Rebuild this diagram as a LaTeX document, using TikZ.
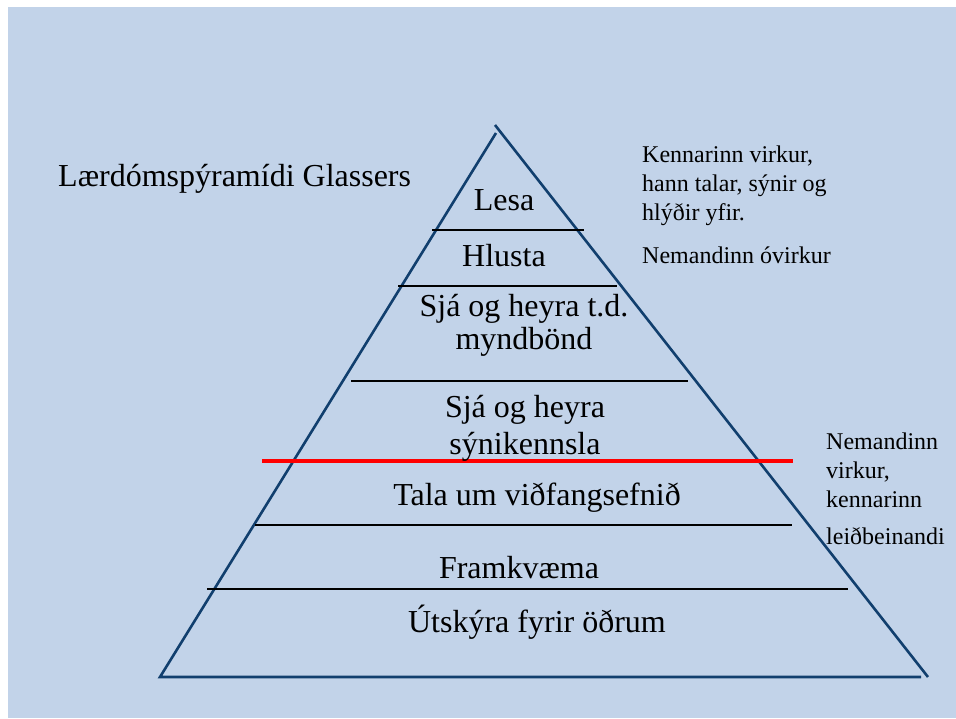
\documentclass[tikz,border=0pt]{standalone}
\usepackage{fontspec}
\setmainfont{Liberation Serif}
\usepackage{tikz}
\usetikzlibrary{positioning}
\definecolor{bgblue}{HTML}{C2D3E9}
\definecolor{pyrblue}{HTML}{113F6E}
\tikzset{
  lvl/.style={anchor=base, inner sep=0pt, font=\fontsize{32}{38}\selectfont},
  note/.style={anchor=base west, inner sep=0pt, font=\fontsize{24}{29}\selectfont},
  divider/.style={line width=1.2pt},
}

\begin{document}
\begin{tikzpicture}[x=1pt, y=-1pt]
  \useasboundingbox (0,0) rectangle (956,718);
  \fill[bgblue] (8,7) rectangle (956,718);
  % pyramid outline
  \coordinate (apexL) at (496,133);
  \coordinate (apexR) at (495,125);
  \coordinate (baseL) at (160,677);
  \coordinate (baseR) at (928,677);
  \coordinate (baseE) at (921,677);
  \draw[pyrblue, line width=2.6pt] (apexL) -- (baseL) -- (baseE);
  \draw[pyrblue, line width=2.6pt] (apexR) -- (baseR);
  % level dividers
  \foreach \y/\xl/\xr in {230/432/584, 286/398/617, 381/351/688, 525/255/792, 589/207/848}{
    \draw[divider] (\xl,\y) -- (\xr,\y);
  }
  % active / passive boundary
  \draw[red, line width=3.5pt] (262,461) -- (793,461);
  % levels
  \node[lvl] (lesa) at (504,210) {Lesa};
  \node[lvl] (hlusta) at (504,266) {Hlusta};
  \node[lvl] (sjaA) at (524,316) {Sjá og heyra t.d.};
  \node[lvl] (sjaB) at (524,349) {myndbönd};
  \node[lvl] (synA) at (525,417) {Sjá og heyra};
  \node[lvl] (synB) at (525,454) {sýnikennsla};
  \node[lvl] (tala) at (537,505) {Tala um viðfangsefnið};
  \node[lvl] (framkv) at (519,578) {Framkvæma};
  \node[lvl] (utskyra) at (537,632) {Útskýra fyrir öðrum};
  % title
  \node[lvl, anchor=base west] (title) at (58,186) {Lærdómspýramídi Glassers};
  % side notes
  \foreach \y/\lab in {162/{Kennarinn virkur,}, 191/{hann talar, sýnir og}, 220/{hlýðir yfir.}, 263/{Nemandinn óvirkur}}{
    \node[note] (top\y) at (642,\y) {\lab};
  }
  \foreach \y/\lab in {449/{Nemandinn}, 478/{virkur,}, 507/{kennarinn}, 544/{leiðbeinandi}}{
    \node[note] (low\y) at (826,\y) {\lab};
  }
\end{tikzpicture}
\end{document}
